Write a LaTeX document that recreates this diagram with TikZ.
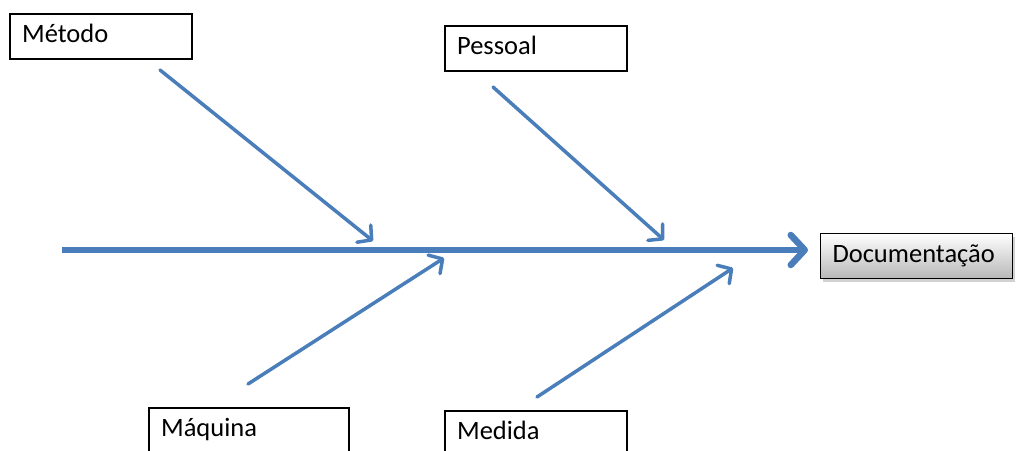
\documentclass[tikz,border=0pt]{standalone}
\usepackage{fontspec}
\setmainfont{Carlito}
\usetikzlibrary{arrows.meta,shadows}
\definecolor{fishblue}{HTML}{4A7EBB}
\tikzset{
  causebox/.style={draw=black, line width=2.2pt, fill=white, anchor=north west, inner xsep=12pt,
    inner ysep=0pt, minimum height=45pt, align=left, font=\fontsize{26.5}{28}\selectfont, text height=17pt, text depth=5pt},
  branch/.style={draw=fishblue, line width=3.5pt, line cap=round, -{Straight Barb[length=10pt,width=22pt,round]}},
  spine/.style={draw=fishblue, line width=6.5pt, -{Straight Barb[length=14pt,width=30pt,round]}},
}
\begin{document}
\begin{tikzpicture}[x=1pt,y=-1pt]
\useasboundingbox (0,0) rectangle (1016,450);
\clip (0,0) rectangle (1016,450);
\fill[white] (0,0) rectangle (1016,450);
% boxes
\node[causebox, text width=158pt] (met) at (9,13) {Método};
\node[causebox, text width=158pt] (pes) at (444,25) {Pessoal};
\node[causebox, text width=176pt] (maq) at (148,407) {Máquina};
\node[causebox, text width=158pt] (med) at (444,410) {Medida};
\node[draw=black, line width=1pt, anchor=north west, text width=168pt, minimum height=45pt,
  inner xsep=12pt, inner ysep=0pt, align=left, font=\fontsize{26.5}{28}\selectfont, text height=17pt, text depth=5pt,
  top color=white, bottom color=black!28, drop shadow={shadow xshift=2pt, shadow yshift=-3pt, opacity=0.35}]
  (doc) at (820,233) {Documentação};
% spine
\coordinate (s0) at (62,250);
\coordinate (s1) at (808,250);
\draw[spine] (s0) -- (s1);
% branch coordinates
\coordinate (a0) at (160,70);  \coordinate (a1) at (373,241);
\coordinate (b0) at (493,87);  \coordinate (b1) at (664,240);
\coordinate (c0) at (248,384); \coordinate (c1) at (444,258);
\coordinate (d0) at (537,397); \coordinate (d1) at (733,268);
\draw[branch] (a0) -- (a1);
\draw[branch] (b0) -- (b1);
\draw[branch] (c0) -- (c1);
\draw[branch] (d0) -- (d1);
\end{tikzpicture}
\end{document}
